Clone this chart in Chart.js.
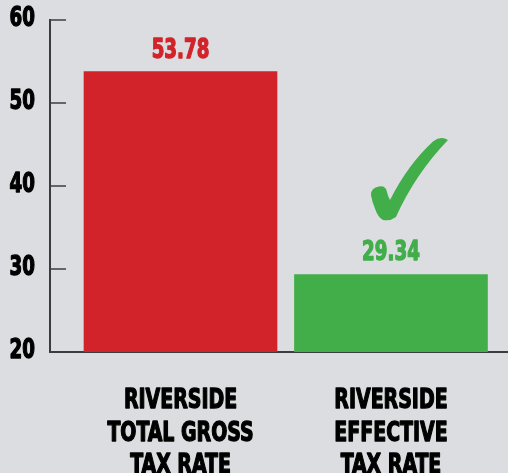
<!DOCTYPE html>
<html>
<head>
<meta charset="utf-8">
<script src="https://cdn.jsdelivr.net/npm/chart.js@4.4.1/dist/chart.umd.min.js"></script>
<style>
  html, body { margin: 0; padding: 0; background: #dcdde0; }
  #wrap { width: 508px; height: 473px; }
</style>
</head>
<body>
<div id="wrap"><canvas id="myChart"></canvas></div>
<script>
// chart data
const categories = [
    ['RIVERSIDE', 'TOTAL GROSS', 'TAX RATE'],
    ['RIVERSIDE', 'EFFECTIVE', 'TAX RATE']
];
const positions = [1, 2];
const taxRates = [53.78, 29.34];
const valueLabels = ['53.78', '29.34'];
const barColors = ['#d2232a', '#41ae4a'];
const yTicks = [20, 30, 40, 50, 60];

const FONT = '"DejaVu Sans Condensed", "Liberation Sans Narrow", "Liberation Sans", sans-serif';
const AXIS = '#3c3c3c';
const SQUEEZE = 0.78; // the reference uses a heavy condensed face

// draw text narrowed horizontally, with a thin outline to make it heavier
const squishText = (ctx, text, x, y) => {
    ctx.save();
    ctx.translate(x, y);
    ctx.scale(SQUEEZE, 1);
    ctx.strokeStyle = ctx.fillStyle;
    ctx.lineWidth = 1.3;
    ctx.lineJoin = 'round';
    ctx.strokeText(text, 0, 0);
    ctx.fillText(text, 0, 0);
    ctx.restore();
};

// tick marks, tick labels, value labels, category labels and the check mark
const decorations = {
    id: 'decorations',
    afterDatasetsDraw(chart) {
        const ctx = chart.ctx;
        const y = chart.scales.y;
        const x = chart.scales.x;
        const area = chart.chartArea;
        ctx.save();
        ctx.strokeStyle = AXIS;
        ctx.lineWidth = 1.5;
        ctx.fillStyle = '#000';
        ctx.font = 'bold 26px ' + FONT;
        ctx.textAlign = 'right';
        ctx.textBaseline = 'middle';
        y.ticks.forEach((t) => {
            const py = y.getPixelForValue(t.value);
            ctx.strokeStyle = AXIS;
            ctx.lineWidth = 1.5;
            ctx.beginPath();
            ctx.moveTo(area.left, py);
            ctx.lineTo(area.left + 16, py);
            ctx.stroke();
            squishText(ctx, String(t.value), area.left - 15, py - 1);
        });

        ctx.font = 'bold 27px ' + FONT;
        ctx.textAlign = 'center';
        ctx.textBaseline = 'alphabetic';
        positions.forEach((v, i) => {
            const px = x.getPixelForValue(v);
            categories[i].forEach((line, j) => {
                squishText(ctx, line, px, area.bottom + 56 + j * 32.5);
            });
        });

        const bars = chart.getDatasetMeta(0).data;
        ctx.font = 'bold 26px ' + FONT;
        bars.forEach((bar, i) => {
            ctx.fillStyle = barColors[i];
            squishText(ctx, valueLabels[i], bar.x, bar.y - 14);
        });

        // check mark above the green bar
        const g = bars[1];
        const p = (dx, dy) => [g.x + dx, g.y + dy];
        ctx.fillStyle = barColors[1];
        ctx.beginPath();
        ctx.moveTo(...p(-1, -74.5));
        ctx.quadraticCurveTo(...p(17, -110), ...p(42, -133));
        ctx.quadraticCurveTo(...p(50, -139), ...p(57, -134.5));
        ctx.quadraticCurveTo(...p(24, -100), ...p(5, -57.5));
        ctx.quadraticCurveTo(...p(-1, -53), ...p(-8, -54.5));
        ctx.quadraticCurveTo(...p(-13, -57), ...p(-16, -66));
        ctx.quadraticCurveTo(...p(-19, -73), ...p(-20, -79.5));
        ctx.quadraticCurveTo(...p(-20, -87), ...p(-12, -88));
        ctx.quadraticCurveTo(...p(-5, -89), ...p(-4, -82.5));
        ctx.quadraticCurveTo(...p(-3, -78), ...p(-1, -74.5));
        ctx.closePath();
        ctx.fill();
        ctx.restore();
    }
};

new Chart(document.getElementById('myChart').getContext('2d'), {
    type: 'bar',
    data: {
        datasets: [{
            data: positions.map((v, i) => ({x: v, y: taxRates[i]})),
            backgroundColor: barColors,
            borderWidth: 0,
            barThickness: 193,
            base: 20
        }]
    },
    options: {
        responsive: true,
        maintainAspectRatio: false,
        animation: false,
        devicePixelRatio: 1,
        layout: {padding: {top: 20, left: 0, right: 0, bottom: 0}},
        plugins: {legend: {display: false}, tooltip: {enabled: false}},
        scales: {
            x: {
                type: 'linear',
                offset: false,
                min: 0.38,
                max: 2.556,
                afterBuildTicks: (scale) => {
                    scale.ticks = positions.map((v) => ({value: v}));
                },
                afterFit: (scale) => { scale.height = 121; },
                grid: {display: false},
                border: {color: AXIS, width: 2},
                ticks: {display: false}
            },
            y: {
                min: 20,
                max: 60,
                afterBuildTicks: (scale) => {
                    scale.ticks = yTicks.map((v) => ({value: v}));
                },
                afterFit: (scale) => { scale.width = 50; },
                grid: {display: false},
                border: {color: AXIS, width: 2},
                ticks: {display: false}
            }
        }
    },
    plugins: [decorations]
});
</script>
</body>
</html>
